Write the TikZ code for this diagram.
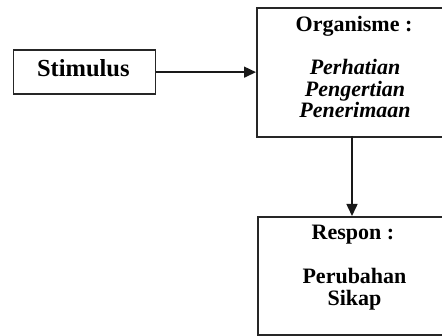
\documentclass[tikz,border=0pt]{standalone}
\usepackage{fontspec}
\setmainfont{Liberation Serif}
\usetikzlibrary{arrows.meta}
\begin{document}
\begin{tikzpicture}[x=1pt,y=-1pt,
  box/.style={draw=black!85,line width=1.7pt,rectangle,inner sep=0pt,anchor=north west},
  txt/.style={anchor=base,inner sep=0pt,font=\fontsize{22}{22}\selectfont\bfseries},
  itxt/.style={txt,font=\fontsize{22}{22}\selectfont\bfseries\itshape},
  arr/.style={line width=1.5pt,draw=black!90,-{Triangle[length=12pt,width=11pt]}}]
\useasboundingbox (0,0) rectangle (442,336);
\clip (0,0) rectangle (442,336);
\node[box,minimum width=142pt,minimum height=44pt] (stim) at (12.5,49.3) {};
\node[txt,font=\fontsize{24.5}{24.5}\selectfont\bfseries] (stimt) at (83.3,76.7) {Stimulus};
\node[box,minimum width=200pt,minimum height=129pt] (org) at (256,7) {};
\node[txt] (orgt) at (354,32) {Organisme :};
\node[itxt] (o1) at (355,75) {Perhatian};
\node[itxt] (o2) at (355,96.5) {Pengertian};
\node[itxt] (o3) at (355,118) {Penerimaan};
\node[box,minimum width=200pt,minimum height=118pt] (resp) at (257,216) {};
\node[txt] (rt) at (353,240) {Respon :};
\node[txt] (r1) at (354.5,284) {Perubahan};
\node[txt] (r2) at (354.5,305.5) {Sikap};
\coordinate (down) at (352,136);
\draw[arr] (stim.east) -- (stim.east -| org.west);
\draw[arr] (down) -- (down |- resp.north);
\end{tikzpicture}
\end{document}
